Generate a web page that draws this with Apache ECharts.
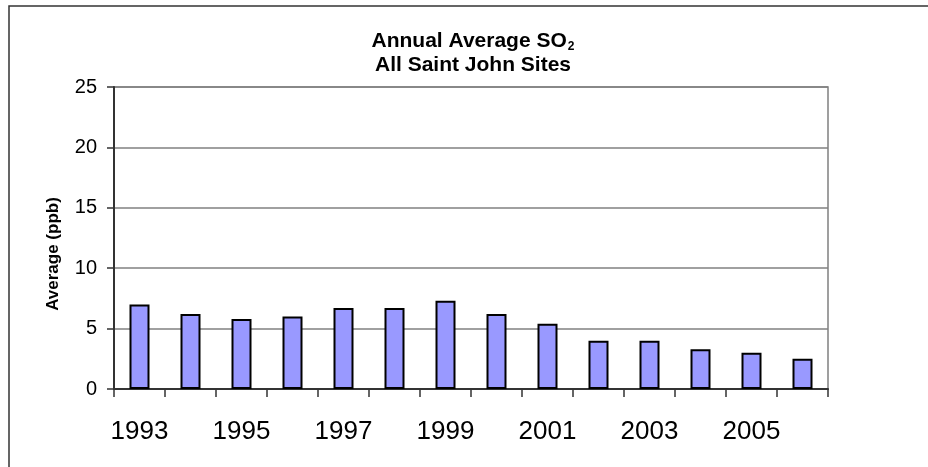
<!DOCTYPE html>
<html>
<head>
<meta charset="utf-8">
<script src="https://cdn.jsdelivr.net/npm/echarts@6/dist/echarts.min.js"></script>
<style>
html,body{margin:0;padding:0;background:#fff;}
#chart{width:928px;height:467px;}
</style>
</head>
<body>
<div id="chart"></div>
<script>
var years = ['1993','1994','1995','1996','1997','1998','1999','2000','2001','2002','2003','2004','2005','2006'];
var averages = [7.0, 6.2, 5.8, 6.0, 6.7, 6.7, 7.3, 6.2, 5.4, 4.0, 4.0, 3.3, 3.0, 2.5];
var titleLine1 = 'Annual Average SO';
var titleSub = '2';
var titleLine2 = 'All Saint John Sites';
var yName = 'Average (ppb)';

var chart = echarts.init(document.getElementById('chart'));
var font = 'Liberation Sans, Arial, sans-serif';
chart.setOption({
  backgroundColor: '#fff',
  animation: false,
  graphic: [
    {type: 'rect', shape: {x: 9, y: 6, width: 1000, height: 1000},
     style: {fill: 'none', stroke: '#333', lineWidth: 1.5}, silent: true},
    {type: 'text', x: 473, y: 41,
     style: {text: '{a|' + titleLine1 + '}{s|' + titleSub + '}', align: 'center', verticalAlign: 'middle',
       rich: {
         a: {fontFamily: font, fontWeight: 'bold', fontSize: 21, fill: '#000', lineHeight: 24},
         s: {fontFamily: font, fontWeight: 'bold', fontSize: 12, fill: '#000', lineHeight: 24, verticalAlign: 'bottom', padding: [8, 0, 0, 1]}
       }}},
    {type: 'text', x: 473, y: 65,
     style: {text: titleLine2, align: 'center', verticalAlign: 'middle',
       fontFamily: font, fontWeight: 'bold', fontSize: 21, fill: '#000'}},
    {type: 'text', x: 53, y: 254, rotation: Math.PI / 2,
     style: {text: yName, align: 'center', verticalAlign: 'middle',
       fontFamily: font, fontWeight: 'bold', fontSize: 17, fill: '#000'}}
  ],
  grid: {left: 114, right: 100, top: 87, bottom: 78, show: true, borderColor: '#808080', borderWidth: 1.5, backgroundColor: 'transparent'},
  xAxis: {
    type: 'category',
    data: years,
    boundaryGap: true,
    axisLine: {lineStyle: {color: '#333', width: 2}},
    axisTick: {show: true, interval: 0, length: 8, lineStyle: {color: '#333', width: 1.5}},
    axisLabel: {interval: 1, fontFamily: font, fontSize: 26, color: '#000', margin: 30}
  },
  yAxis: {
    type: 'value',
    min: 0, max: 25, interval: 5,
    axisLine: {show: true, lineStyle: {color: '#333', width: 2}},
    axisTick: {show: true, length: 7, lineStyle: {color: '#333', width: 1.5}},
    axisLabel: {fontFamily: font, fontSize: 20, color: '#000', margin: 17},
    splitLine: {show: true, lineStyle: {color: '#808080', width: 1.5}}
  },
  series: [{
    type: 'bar',
    data: averages,
    barWidth: 20,
    itemStyle: {color: '#9999FF', borderColor: '#000', borderWidth: 2}
  }]
});
</script>
</body>
</html>
